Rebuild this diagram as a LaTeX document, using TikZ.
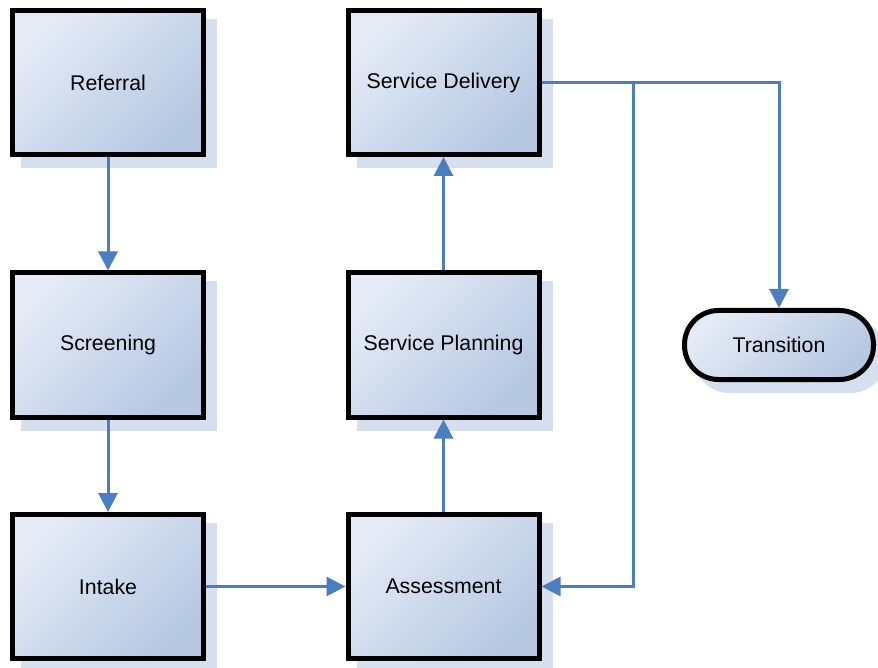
\documentclass[tikz,border=0pt]{standalone}
\usepackage{fontspec}
\setmainfont{Liberation Sans}
\usetikzlibrary{arrows.meta,shadows,positioning}
\definecolor{linec}{RGB}{74,126,193}
\definecolor{lightc}{RGB}{228,235,246}
\definecolor{darkc}{RGB}{182,200,226}
\definecolor{shadc}{RGB}{214,223,240}
\tikzset{
  procbox/.style={draw=black, line width=5pt, minimum width=191pt, minimum height=144pt,
    top color=lightc, bottom color=darkc, shading angle=45,
    font=\fontsize{21.3}{25}\selectfont,
    drop shadow={shadow xshift=11pt, shadow yshift=-11pt, fill=shadc, draw=shadc, line width=5pt, opacity=1}},
  termbox/.style={procbox, minimum width=189pt, minimum height=69pt, rounded corners=34pt},
  conn/.style={draw=linec, line width=3pt, -{Triangle[width=19pt,length=19pt]}}
}
\begin{document}
\begin{tikzpicture}[x=1pt,y=-1pt]
\useasboundingbox (0,0) rectangle (878,668);
\node[procbox] (ref) at (108,82.5) {Referral};
\node[procbox] (scr) at (108,345) {Screening};
\node[procbox] (int) at (108,586.5) {Intake};
\node[procbox] (del) at (443.5,82.5) {Service Delivery};
\node[procbox] (pla) at (443.5,345) {Service Planning};
\node[procbox] (ass) at (443.5,586.5) {Assessment};
\node[termbox] (tra) at (779,345) {Transition};
\coordinate (br) at (633,82.5);
\draw[conn] (ref.south) -- (scr.north);
\draw[conn] (scr.south) -- (int.north);
\draw[conn] (int.east) -- (ass.west);
\draw[conn] (ass.north) -- (pla.south);
\draw[conn] (pla.north) -- (del.south);
\draw[conn] (del.east) -| (tra.north);
\draw[conn] (br) |- (ass.east);
\end{tikzpicture}
\end{document}
